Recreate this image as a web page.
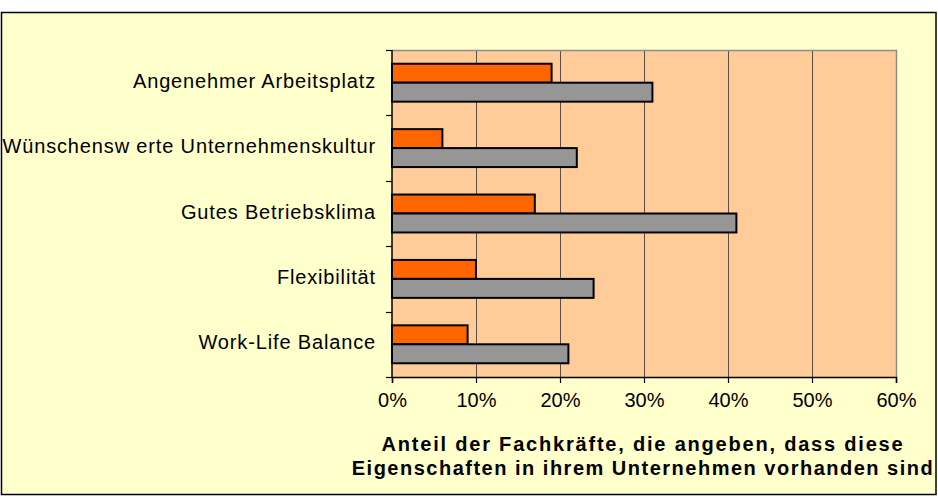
<!DOCTYPE html>
<html lang="de">
  <head>
    <meta charset="utf-8" />
    <title>Fachkräfte Eigenschaften</title>
    <script src="https://d3js.org/d3.v7.min.js"></script>
    <style type="text/css">
      body {
        margin: 0;
        background: #ffffff;
      }
      text {
        font-family: "Liberation Sans", Arial, sans-serif;
        fill: #000;
      }
    </style>
  </head>
  <body>
    <script type="text/javascript">
      // Data
      var categories = [
        "Angenehmer Arbeitsplatz",
        "Wünschensw erte Unternehmenskultur",
        "Gutes Betriebsklima",
        "Flexibilität",
        "Work-Life Balance"
      ];
      var seriesNames = ["orange", "grau"];
      var orangeValues = [19, 6, 17, 10, 9];
      var grayValues = [31, 22, 41, 24, 21];
      var xTicks = [0, 10, 20, 30, 40, 50, 60];
      var titleLines = [
        "Anteil der Fachkräfte, die angeben, dass diese",
        "Eigenschaften in ihrem Unternehmen vorhanden sind"
      ];

      var rows = categories.map(function (c, i) {
        return { cat: c, orange: orangeValues[i], grau: grayValues[i] };
      });

      var w = 938,
        h = 497;
      var plot = { left: 392, top: 50, right: 896, bottom: 377 };

      var svg = d3
        .select("body")
        .append("svg")
        .attr("width", w)
        .attr("height", h);

      // outer frame
      svg
        .append("rect")
        .attr("x", 1.5)
        .attr("y", 12.5)
        .attr("width", 934.5)
        .attr("height", 482)
        .attr("fill", "#FFFFCC")
        .attr("stroke", "#000")
        .attr("stroke-width", 1.5);

      var xScale = d3
        .scaleLinear()
        .domain([0, 60])
        .range([plot.left, plot.right]);

      var yScale = d3
        .scaleBand()
        .domain(categories)
        .range([plot.top, plot.bottom])
        .paddingInner(0.42)
        .paddingOuter(0.21);

      var subScale = d3
        .scaleBand()
        .domain(seriesNames)
        .range([0, yScale.bandwidth()]);

      var colors = { orange: "#FF6600", grau: "#969696" };

      // plot area background
      svg
        .append("rect")
        .attr("x", plot.left)
        .attr("y", plot.top)
        .attr("width", plot.right - plot.left)
        .attr("height", plot.bottom - plot.top)
        .attr("fill", "#FFCC99");

      // gridlines
      svg
        .append("g")
        .selectAll("line")
        .data(xTicks.slice(1, -1))
        .enter()
        .append("line")
        .attr("x1", function (d) {
          return Math.round(xScale(d)) + 0.5;
        })
        .attr("x2", function (d) {
          return Math.round(xScale(d)) + 0.5;
        })
        .attr("y1", plot.top)
        .attr("y2", plot.bottom)
        .attr("stroke", "#5a5048")
        .attr("stroke-width", 1);

      // plot border (top and right)
      svg
        .append("path")
        .attr(
          "d",
          "M" + plot.left + "," + (plot.top + 0.5) + "H" + (plot.right + 0.5) + "V" + plot.bottom
        )
        .attr("fill", "none")
        .attr("stroke", "#8c8c8c")
        .attr("stroke-width", 1.5);

      // bars
      var groups = svg
        .append("g")
        .selectAll("g")
        .data(rows)
        .enter()
        .append("g")
        .attr("transform", function (d) {
          return "translate(0," + yScale(d.cat) + ")";
        });

      groups
        .selectAll("rect")
        .data(function (d) {
          return seriesNames.map(function (s) {
            return { key: s, value: d[s] };
          });
        })
        .enter()
        .append("rect")
        .attr("x", xScale(0))
        .attr("y", function (d) {
          return subScale(d.key);
        })
        .attr("width", function (d) {
          return xScale(d.value) - xScale(0);
        })
        .attr("height", subScale.bandwidth())
        .attr("fill", function (d) {
          return colors[d.key];
        })
        .attr("stroke", "#000")
        .attr("stroke-width", 2);

      // x axis
      var xAxis = d3
        .axisBottom(xScale)
        .tickValues(xTicks)
        .tickSize(6)
        .tickPadding(10)
        .tickFormat(function (d) {
          return d + "%";
        });
      var gx = svg
        .append("g")
        .attr("transform", "translate(0," + plot.bottom + ")")
        .call(xAxis);
      gx.select(".domain").attr("stroke", "#000").attr("stroke-width", 1.5);
      gx.selectAll(".tick line").attr("stroke", "#000").attr("stroke-width", 1.2);
      gx.selectAll(".tick text")
        .attr("font-size", 20)
        .attr("font-family", "Liberation Sans, Arial, sans-serif")
        .attr("fill", "#000");

      // y axis (ticks at band boundaries)
      var gy = svg.append("g");
      var boundaries = d3.range(categories.length + 1).map(function (i) {
        return plot.top + (i * (plot.bottom - plot.top)) / categories.length;
      });
      gy.append("line")
        .attr("x1", plot.left)
        .attr("x2", plot.left)
        .attr("y1", plot.top)
        .attr("y2", plot.bottom)
        .attr("stroke", "#000")
        .attr("stroke-width", 1.5);
      gy.selectAll(".yt")
        .data(boundaries)
        .enter()
        .append("line")
        .attr("x1", plot.left - 6)
        .attr("x2", plot.left)
        .attr("y1", function (d) {
          return Math.round(d) + 0.5;
        })
        .attr("y2", function (d) {
          return Math.round(d) + 0.5;
        })
        .attr("stroke", "#000")
        .attr("stroke-width", 1.2);

      gy.selectAll("text")
        .data(categories)
        .enter()
        .append("text")
        .attr("x", plot.left - 16)
        .attr("y", function (d) {
          return yScale(d) + yScale.bandwidth() / 2 + 5;
        })
        .attr("text-anchor", "end")
        .attr("font-size", 20)
        .attr("letter-spacing", 0.85)
        .text(function (d) {
          return d;
        });

      // axis title
      var titleSpacing = [1.8, 1.5];
      svg
        .append("g")
        .selectAll("text")
        .data(titleLines)
        .enter()
        .append("text")
        .attr("x", 643)
        .attr("y", function (d, i) {
          return 451 + i * 24;
        })
        .attr("text-anchor", "middle")
        .attr("font-size", 20)
        .attr("font-weight", "bold")
        .attr("letter-spacing", function (d, i) {
          return titleSpacing[i];
        })
        .text(function (d) {
          return d;
        });
    </script>
  </body>
</html>
